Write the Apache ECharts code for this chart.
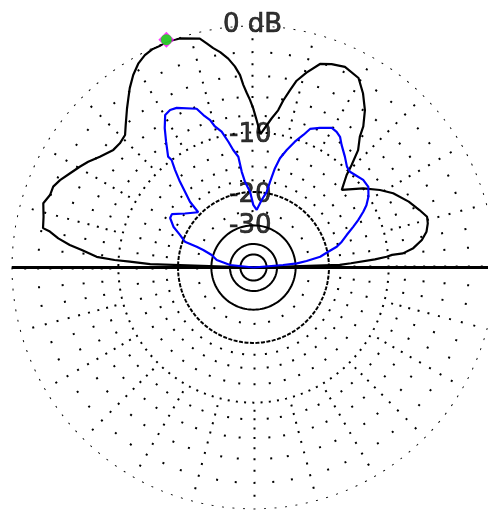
<!DOCTYPE html>
<html><head><meta charset="utf-8">
<script src="https://cdn.jsdelivr.net/npm/echarts@6/dist/echarts.min.js"></script>
<style>html,body{margin:0;padding:0;background:#fff}#c{width:488px;height:512px}</style>
</head><body><div id="c"></div>
<script>
// Elevation pattern, trace 1 (black): elevation angle (deg) and gain (dB)
const blackAngles = [0, 1.7, 2.5, 3.8, 4.6, 5.2, 5.4, 6.9, 9.3, 11.7, 14.2, 16.3, 19.1, 23.0, 28.0, 31.5, 35.8, 40.3, 41.3, 44.8, 46.2, 48.3, 50.9, 52.1, 54.7, 57.8, 61.0, 65.5, 69.0, 71.9, 74.8, 77.0, 78.4, 79.9, 81.1, 83.1, 87.0, 89.0, 90.1, 91.2, 92.2, 93.2, 94.0, 95.3, 96.9, 98.8, 100.4, 101.8, 103.2, 107.8, 111.1, 113.0, 114.9, 117.1, 119.4, 122.0, 124.6, 126.5, 128.5, 131.8, 134.1, 137.1, 140.0, 144.2, 147.4, 149.9, 152.8, 155.7, 158.0, 160.4, 163.0, 166.4, 169.4, 170.0, 171.5, 173.0, 174.2, 176.1, 176.9, 177.3, 178.1, 180];
const blackDb = [-99, -17.7, -15.6, -11.8, -10.2, -9.5, -8.2, -7.0, -6.0, -5.4, -5.1, -5.0, -5.5, -6.2, -7.3, -8.4, -10.0, -12.0, -12.4, -10.5, -9.2, -7.4, -6.2, -5.2, -3.9, -2.8, -1.9, -1.6, -1.8, -2.1, -3.1, -4.0, -5.0, -6.1, -7.2, -8.2, -10.2, -8.3, -7.2, -6.3, -5.6, -4.8, -3.9, -3.1, -2.4, -1.8, -1.4, -0.95, -0.5, -0.1, 0, -0.1, -0.1, -0.25, -0.55, -1.1, -1.8, -2.4, -3.0, -4.0, -4.65, -4.85, -4.8, -4.2, -3.6, -3.2, -2.75, -2.25, -1.95, -1.95, -1.65, -1.95, -2.1, -2.7, -3.5, -4.6, -5.8, -7.4, -9.5, -11.5, -14.6, -99];

// Trace 2 (blue)
const blueAngles = [0, 4.8, 5.5, 7.0, 9.2, 11.9, 14.0, 16.3, 19.2, 22.2, 24.4, 26.9, 28.9, 31.7, 35.1, 38.6, 42.3, 44.8, 47.2, 50.5, 54.3, 56.5, 58.5, 60.7, 64.6, 67.8, 69.4, 71.8, 74.2, 76.4, 77.8, 79.1, 80.1, 83.1, 86.8, 90.2, 92.6, 95.7, 97.0, 97.8, 99.8, 101.3, 103.2, 105.3, 106.4, 108.2, 109.7, 115.7, 117.9, 120.1, 122.5, 124.8, 127.6, 127.3, 128.8, 130.6, 132.1, 134.0, 135.0, 141.8, 146.8, 149.3, 153.0, 156.1, 159.4, 159.9, 160.8, 163.4, 168.5, 173.9, 180];
const blueDb = [-99, -36, -29.4, -25.9, -21.9, -19.8, -17.8, -16.6, -15.4, -13.9, -12.75, -11.6, -10.8, -10.0, -9.35, -9.35, -9.7, -9.9, -9.7, -8.95, -8.1, -7.45, -7.2, -7.1, -7.7, -8.25, -9.2, -10.35, -11.75, -13.15, -14.9, -17.5, -19.7, -21.8, -24.6, -23.2, -19.9, -17.7, -15.8, -13.25, -12.15, -10.9, -9.45, -8.65, -7.8, -7.05, -6.2, -5.35, -5.25, -5.45, -6.55, -7.85, -9.4, -10.0, -11.3, -13.05, -14.8, -16.7, -19.4, -17.5, -15.6, -15.7, -17.0, -18.9, -20.5, -23.8, -26.0, -29.4, -32.0, -40, -99];

// Grid rings (dB) and labels
const majorRingsDb = [0, -10, -20, -30, -40, -50];
const minorRingsDb = [-1, -2, -3, -4, -5, -6, -7, -8, -9, -12.5, -15, -17.5, -25];
const ringLabelDb = [0, -10, -20, -30];
const ringLabelText = ['0 dB', '-10', '-20', '-30'];

const R = 242;
function arrl(db) { return db <= -90 ? 0 : Math.pow(0.89, -db / 2); }

function ringStep(db) {
  if (db === 0) return 2.5;
  if (db === -10) return 3.5;
  if (db <= -20 && db % 10 === 0) return 0;
  if (db > -10) return (Math.abs(db) % 2 === 0) ? 5 : 15;
  if (db === -25) return 15;
  return 7.5;
}

const series = [];
majorRingsDb.concat(minorRingsDb).forEach(function (db) {
  const r = arrl(db);
  const pts = [];
  for (let a = 0; a <= 360; a++) pts.push([r, a]);
  const segLen = 2 * r * R * Math.sin(Math.PI / 360);
  const step = ringStep(db);
  let type = 'solid';
  if (db === -20) type = [4, 1.5];
  else if (step > 0) {
    const period = step * segLen;
    type = [2, Math.max(0.5, period - 2)];
  }
  series.push({
    type: 'line', coordinateSystem: 'polar', data: pts, symbol: 'none', showSymbol: false,
    silent: true, animation: false, z: 1,
    lineStyle: { color: '#000', width: 2, type: type, cap: 'butt' }
  });
});

// Horizon line
series.push({
  type: 'line', coordinateSystem: 'polar', data: [[1, 180], [0, 0], [1, 0]], symbol: 'none',
  silent: true, animation: false, z: 2, lineStyle: { color: '#000', width: 3 }
});

// Ring labels
series.push({
  type: 'scatter', coordinateSystem: 'polar', symbolSize: 0, silent: true, animation: false, z: 2,
  data: ringLabelDb.map(function (d, i) {
    return {
      value: [arrl(d), 90],
      label: {
        show: true, position: 'inside', formatter: ringLabelText[i],
        fontFamily: 'DejaVu Sans', fontSize: 26, color: '#000',
        textBorderColor: '#000', textBorderWidth: 0.7,
        align: i === 0 ? 'center' : 'right', verticalAlign: 'middle',
        offset: i === 0 ? [-1, 0] : [18, i === 3 ? 1 : 3]
      }
    };
  })
});

series.push({
  type: 'line', coordinateSystem: 'polar', symbol: 'none', showSymbol: false, silent: true,
  animation: false, z: 3,
  data: blackAngles.map(function (a, i) { return [arrl(blackDb[i]), a]; }),
  lineStyle: { color: '#000', width: 2.2 }
});
series.push({
  type: 'line', coordinateSystem: 'polar', symbol: 'none', showSymbol: false, silent: true,
  animation: false, z: 4,
  data: blueAngles.map(function (a, i) { return [arrl(blueDb[i]), a]; }),
  lineStyle: { color: '#0000ff', width: 2.2 }
});

// Peak marker on trace 1
let pk = 0;
blackDb.forEach(function (d, i) { if (d > blackDb[pk]) pk = i; });
series.push({
  type: 'scatter', coordinateSystem: 'polar', silent: true, animation: false, z: 5,
  symbol: 'diamond', symbolSize: 16, symbolOffset: [0, -2], itemStyle: { color: '#ff00ff' },
  data: [[arrl(blackDb[pk]), blackAngles[pk]]]
});
series.push({
  type: 'scatter', coordinateSystem: 'polar', silent: true, animation: false, z: 6,
  symbol: 'circle', symbolSize: 11, symbolOffset: [0, -2], itemStyle: { color: '#00ee00' },
  data: [[arrl(blackDb[pk]), blackAngles[pk]]]
});

const chart = echarts.init(document.getElementById('c'), null, { renderer: 'canvas' });
chart.setOption({
  animation: false,
  backgroundColor: '#fff',
  polar: { center: [253.5, 267.5], radius: R },
  radiusAxis: { type: 'value', min: 0, max: 1, axisLine: { show: false }, axisTick: { show: false }, axisLabel: { show: false }, splitLine: { show: false } },
  angleAxis: { type: 'value', min: 0, max: 360, startAngle: 0, clockwise: false, axisLine: { show: false }, axisTick: { show: false }, axisLabel: { show: false }, splitLine: { show: false } },
  series: series
});
</script>
</body></html>
